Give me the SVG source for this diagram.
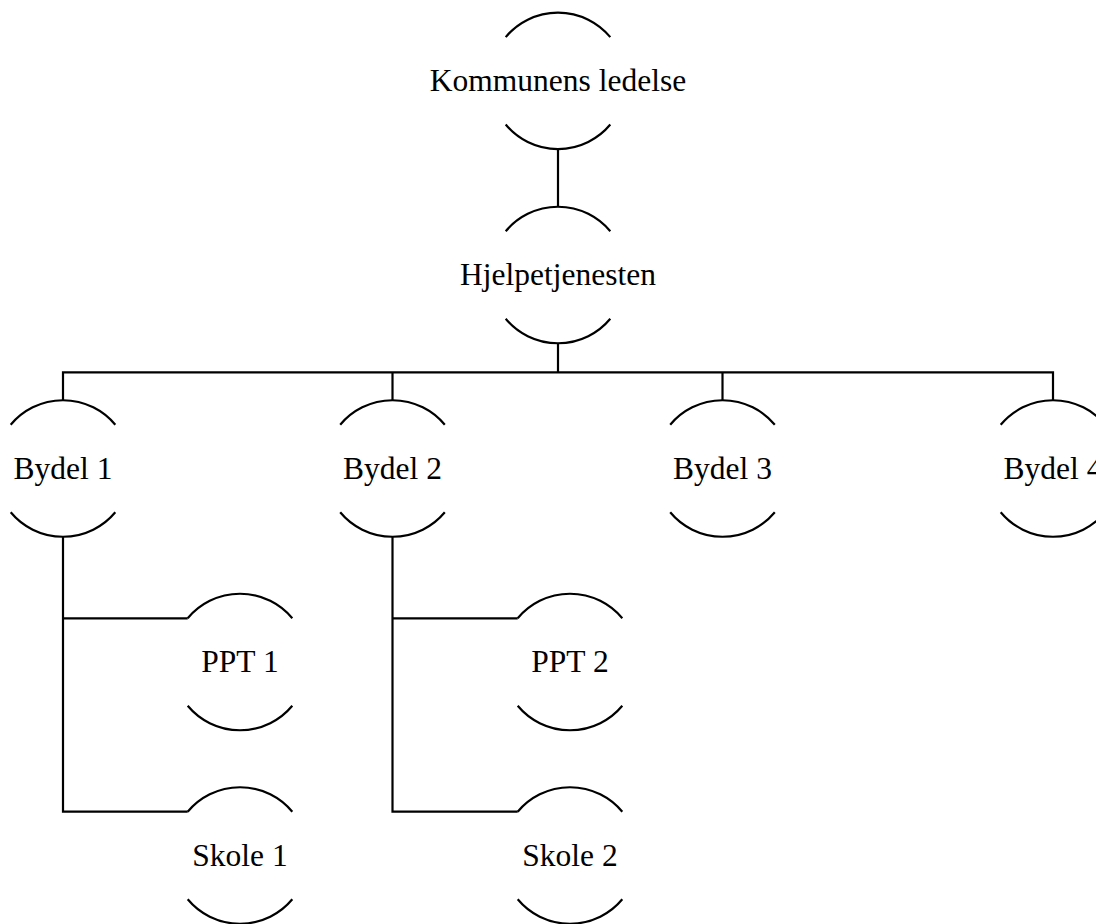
<svg xmlns="http://www.w3.org/2000/svg" width="1096" height="924" viewBox="0 0 1096 924">
<style>
.arc{fill:none;stroke:#000;stroke-width:2.2}
.ln{fill:none;stroke:#000;stroke-width:2.2}
text{font-family:"Liberation Serif","Times New Roman",serif;font-size:31.5px;fill:#000;text-anchor:middle}
</style>
<defs>
<path id="shape" class="arc" d="M-52.3,-43.7 A68,68 0 0 1 52.3,-43.7 M-52.3,43.7 A68,68 0 0 0 52.3,43.7"/>
</defs>
<rect width="1096" height="924" fill="#fff"/>
<g id="connectors" class="ln">
<path d="M558,148.8 V207"/>
<path d="M558,343 V372.3"/>
<path d="M63,400.5 V372.3 H1053 V400.5"/>
<path d="M392.5,372.3 V400.5"/>
<path d="M722.5,372.3 V400.5"/>
<path d="M63,536.5 V811.7 H187.7"/>
<path d="M63,618.3 H187.7"/>
<path d="M392.5,536.5 V811.7 H517.7"/>
<path d="M392.5,618.3 H517.7"/>
</g>
<g id="kommunens"><use href="#shape" x="558" y="80.8"/><text x="558" y="90.5">Kommunens ledelse</text></g>
<g id="hjelpetjenesten"><use href="#shape" x="558" y="275"/><text x="558" y="285">Hjelpetjenesten</text></g>
<g id="bydel1"><use href="#shape" x="63" y="468.5"/><text x="63" y="479">Bydel 1</text></g>
<g id="bydel2"><use href="#shape" x="392.5" y="468.5"/><text x="392.5" y="479">Bydel 2</text></g>
<g id="bydel3"><use href="#shape" x="722.5" y="468.5"/><text x="722.5" y="479">Bydel 3</text></g>
<g id="bydel4"><use href="#shape" x="1053" y="468.5"/><text x="1053" y="479">Bydel 4</text></g>
<g id="ppt1"><use href="#shape" x="240" y="662"/><text x="240" y="672">PPT 1</text></g>
<g id="skole1"><use href="#shape" x="240" y="855.5"/><text x="240" y="865.5">Skole 1</text></g>
<g id="ppt2"><use href="#shape" x="570" y="662"/><text x="570" y="672">PPT 2</text></g>
<g id="skole2"><use href="#shape" x="570" y="855.5"/><text x="570" y="865.5">Skole 2</text></g>
</svg>
